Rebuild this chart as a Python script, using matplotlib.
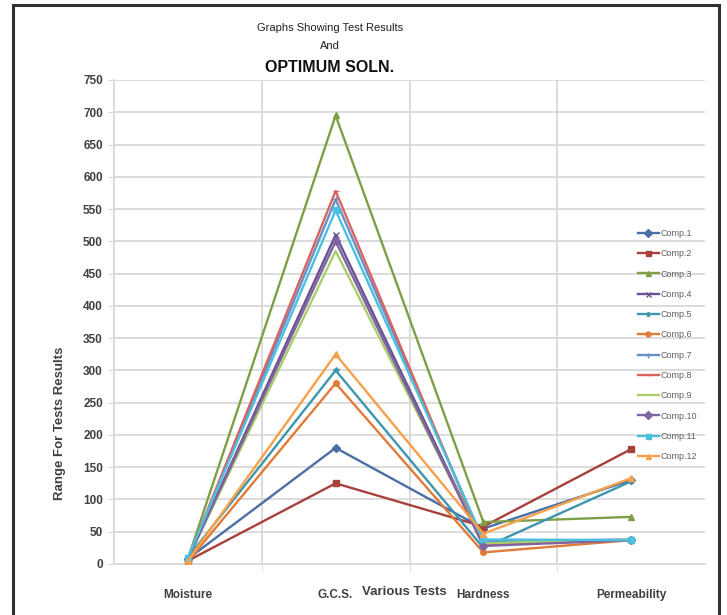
import matplotlib
matplotlib.use("Agg")
import matplotlib.pyplot as plt
from matplotlib.patches import Rectangle

plt.rcParams['font.family'] = ['Liberation Sans Narrow', 'Liberation Sans', 'DejaVu Sans']

# test names along the x axis
tests = ["Moisture", "G.C.S.", "Hardness", "Permeability"]

# values, one list per composition
comp1 = [8, 180, 55, 130]
comp2 = [5, 125, 58, 178]
comp3 = [8, 695, 65, 73]
comp4 = [8, 510, 30, 37]
comp5 = [10, 300, 25, 128]
comp6 = [4, 280, 18, 37]
comp7 = [8, 565, 35, 38]
comp8 = [8, 578, 30, 37]
comp9 = [8, 485, 32, 38]
comp10 = [8, 500, 28, 37]
comp11 = [10, 548, 38, 37]
comp12 = [5, 325, 47, 133]

labels = ["Comp.1", "Comp.2", "Comp.3", "Comp.4", "Comp.5", "Comp.6",
          "Comp.7", "Comp.8", "Comp.9", "Comp.10", "Comp.11", "Comp.12"]
series = [comp1, comp2, comp3, comp4, comp5, comp6,
          comp7, comp8, comp9, comp10, comp11, comp12]

colors = ['#4A6FA5', '#A8403C', '#7E9F48', '#6A5290', '#3D96AE', '#E07B39',
          '#6690CC', '#D9645F', '#A9CF6C', '#8064A2', '#4BC0DE', '#F7A04A']
markers = ['D', 's', '^', 'x', '*', 'o', '+', '_', None, 'D', 's', '^']

fig = plt.figure(figsize=(7.27, 6.15), dpi=100)
ax = fig.add_axes([114 / 727, 51 / 615, 591 / 727, 484 / 615])

x = list(range(len(tests)))
for vals, lab, col, mk in zip(series, labels, colors, markers):
    ax.plot(x, vals, color=col, linewidth=1.7, marker=mk, markersize=4,
            markeredgewidth=1.0, label=lab, zorder=3)

# axis limits, grid at category boundaries like the spreadsheet chart
ax.set_xlim(-0.5, 3.5)
ax.set_ylim(0, 750)
ax.set_yticks(range(0, 751, 50))
ax.set_xticks(x)
ax.set_xticklabels(tests)
ax.set_xticks([0.5, 1.5, 2.5], minor=True)
ax.grid(axis='y', color='#D9D9D9', linewidth=1.3, zorder=0)
ax.grid(axis='x', which='minor', color='#D9D9D9', linewidth=1.3, zorder=0)

for s in ['top', 'right']:
    ax.spines[s].set_visible(False)
for s in ['left', 'bottom']:
    ax.spines[s].set_color('#D9D9D9')
    ax.spines[s].set_linewidth(1.3)

ax.tick_params(axis='y', length=4, color='#D9D9D9', labelsize=8.5,
               labelcolor='#404040', pad=4)
ax.tick_params(axis='x', which='major', length=0, labelsize=8.5,
               labelcolor='#404040', pad=18)
ax.tick_params(axis='x', which='minor', length=5, color='#D9D9D9')
for t in ax.get_xticklabels() + ax.get_yticklabels():
    t.set_fontweight('bold')

# titles and axis labels
fig.text(330 / 727, 1 - 28 / 615, "Graphs Showing Test Results", ha='center',
         va='center', fontsize=8, color='#202020')
fig.text(330 / 727, 1 - 46 / 615, "And", ha='center', va='center',
         fontsize=8, color='#202020')
fig.text(330 / 727, 1 - 67 / 615, "OPTIMUM SOLN.", ha='center', va='center',
         fontsize=11.5, fontweight='bold', color='#101010')
fig.text(404 / 727, 1 - 592 / 615, "Various Tests", ha='center', va='center',
         fontsize=9.5, fontweight='bold', color='#404040')
fig.text(60 / 727, 1 - 423 / 615, "Range For Tests Results", ha='center',
         va='center', rotation=90, fontsize=9.5, fontweight='bold',
         color='#404040')

leg = ax.legend(loc='upper left', bbox_to_anchor=(638 / 727, 1 - 229 / 615),
                bbox_transform=fig.transFigure, frameon=False, fontsize=6.5,
                handlelength=2.3, handletextpad=0.2, labelspacing=1.25,
                borderpad=0, borderaxespad=0, markerscale=0.9)
for t in leg.get_texts():
    t.set_color('#606060')

# black border around the picture
fig.patches.append(Rectangle((13 / 727, -0.01), 706 / 727, 1 - 5 / 615 + 0.01,
                             transform=fig.transFigure, fill=False,
                             edgecolor='#303030', linewidth=2.2))

fig.savefig("out.png", dpi=100)
